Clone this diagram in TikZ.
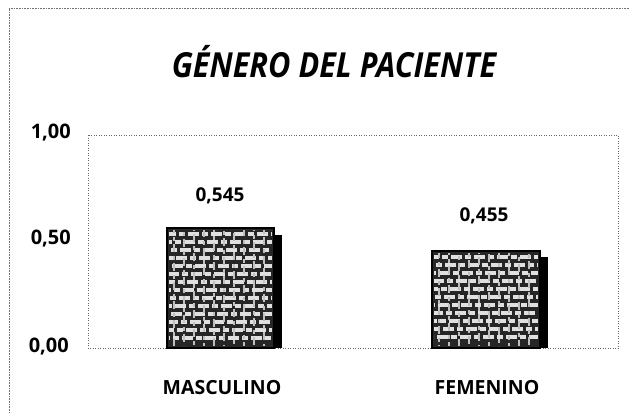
\documentclass[tikz,border=0pt]{standalone}
\usepackage{fontspec}
\setmainfont{Open Sans}
\tikzset{
  frameline/.style={draw=black!55, densely dotted, line width=0.6pt},
  plotline/.style={draw=black!60, dotted, line width=0.5pt},
  barbody/.style={fill=black!85, draw=black, line width=2pt},
  streakh/.style={draw=white!88!black, line width=3.4pt, dash pattern=on 11pt off 3pt on 6pt off 3pt},
  streakv/.style={draw=white!75!black, line width=2pt, dash pattern=on 8pt off 4pt on 4pt off 3pt},
  barshadow/.style={fill=black},
  ticklab/.style={font=\bfseries\fontsize{20}{22}\selectfont, anchor=east, inner sep=0pt},
  vallab/.style={font=\bfseries\fontsize{19}{21}\selectfont, inner sep=0pt},
  catlab/.style={font=\bfseries\fontsize{19.5}{22}\selectfont, inner sep=0pt},
  titlelab/.style={font=\bfseries\itshape\fontsize{34.5}{38}\selectfont, inner sep=0pt, anchor=base}
}
\begin{document}
\begin{tikzpicture}[x=1pt,y=-1pt]
\useasboundingbox (0,0) rectangle (629,413);
% outer frame
\coordinate (ftl) at (9,8);
\coordinate (ftr) at (629,8);
\coordinate (fbl) at (9,413);
\draw[frameline] (ftr) -- (ftl) -- (fbl);
% plot area
\coordinate (pa1) at (88,135);
\coordinate (pa2) at (618,348);
\draw[plotline] (pa1) rectangle (pa2);
% title
\node[titlelab] (title) at (334,77) {\scalebox{0.89}[1]{GÉNERO DEL PACIENTE}};
% ticks
\node[ticklab] (t100) at (71,133) {1,00};
\node[ticklab] (t050) at (71,239) {0,50};
\node[ticklab] (t000) at (69,347) {0,00};
% bar masculino
\fill[barshadow] (274,235) rectangle (282,348);
\filldraw[barbody] (167,228) rectangle (274,348);
\begin{scope}
  \clip (169,230) rectangle (272,346);
  \foreach \k [count=\i] in {234,242,250,258,266,274,282,290,298,306,314,322,330,338}
    \draw[streakh, dash phase=\i*4pt] (169,\k) -- (272,\k);
  \foreach \k [count=\i] in {174,184,194,204,214,224,234,244,254,264}
    \draw[streakv, dash phase=\i*5pt] (\k,230) -- (\k,346);
\end{scope}
% bar femenino
\fill[barshadow] (540,257) rectangle (548,348);
\filldraw[barbody] (432,251) rectangle (540,348);
\begin{scope}
  \clip (434,253) rectangle (538,346);
  \foreach \k [count=\i] in {257,265,273,281,289,297,305,313,321,329,337}
    \draw[streakh, dash phase=\i*6pt] (434,\k) -- (538,\k);
  \foreach \k [count=\i] in {439,449,459,469,479,489,499,509,519,529}
    \draw[streakv, dash phase=\i*3pt] (\k,253) -- (\k,346);
\end{scope}
% value labels
\node[vallab] (v1) at (220,196) {0,545};
\node[vallab] (v2) at (484,216) {0,455};
% category labels
\node[catlab] (c1) at (222,388) {MASCULINO};
\node[catlab] (c2) at (487,388) {FEMENINO};
\end{tikzpicture}
\end{document}
